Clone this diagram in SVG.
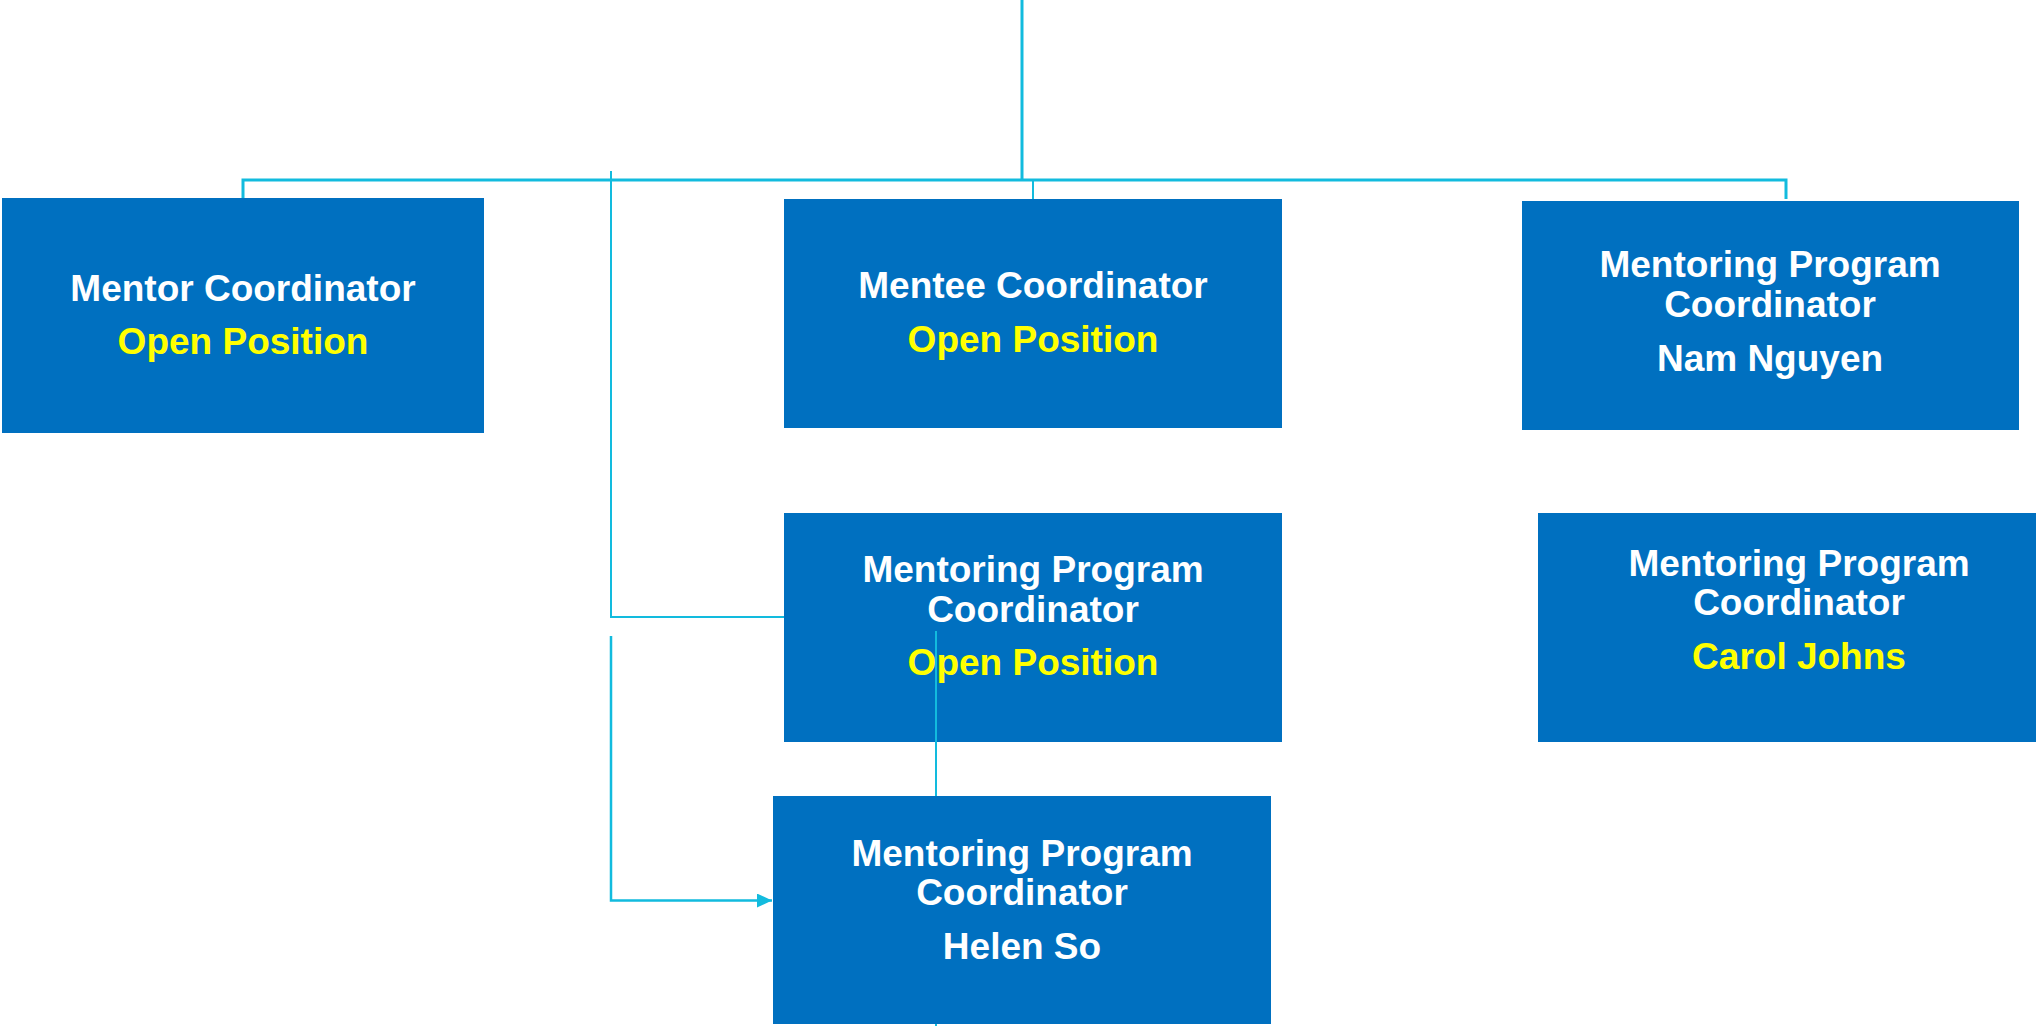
<svg xmlns="http://www.w3.org/2000/svg" width="2036" height="1026" viewBox="0 0 2036 1026">
<defs>
<style>
.box{fill:#0070C0}
.t{font-family:"Liberation Sans",Arial,sans-serif;font-weight:bold;font-size:37px;text-anchor:middle;fill:#FFFFFF}
.y{fill:#FFFF00}
.ln{fill:none;stroke:#12BBDE}
</style>
<marker id="arr" markerWidth="15" markerHeight="14" refX="15" refY="7" orient="auto" markerUnits="userSpaceOnUse">
<path d="M0,0 L15,7 L0,14 Z" fill="#12BBDE"/>
</marker>
</defs>
<rect width="2036" height="1026" fill="#FFFFFF"/>
<g id="connectors">
<path class="ln" stroke-width="3" d="M1022,0 V180"/>
<path class="ln" stroke-width="3" d="M243,198 V180 H1786 V199"/>
<path class="ln" stroke-width="2" d="M1033,180 V199"/>
<path class="ln" stroke-width="2" d="M611,171 V617 H784"/>
<path class="ln" stroke-width="2.5" d="M611,636 V900.5 H772" marker-end="url(#arr)"/>
</g>
<g id="mentor-coordinator">
<rect class="box" x="2" y="198" width="482" height="235"/>
<text class="t" x="243" y="301">Mentor Coordinator</text>
<text class="t y" x="243" y="354">Open Position</text>
</g>
<g id="mentee-coordinator">
<rect class="box" x="784" y="199" width="498" height="229"/>
<text class="t" x="1033" y="298">Mentee Coordinator</text>
<text class="t y" x="1033" y="352">Open Position</text>
</g>
<g id="mpc-nam-nguyen">
<rect class="box" x="1522" y="201" width="497" height="229"/>
<text class="t" x="1770" y="277">Mentoring Program</text>
<text class="t" x="1770" y="317">Coordinator</text>
<text class="t" x="1770" y="371">Nam Nguyen</text>
</g>
<g id="mpc-open-position">
<rect class="box" x="784" y="513" width="498" height="229"/>
<text class="t" x="1033" y="582">Mentoring Program</text>
<text class="t" x="1033" y="622">Coordinator</text>
<text class="t y" x="1033" y="675">Open Position</text>
</g>
<g id="mpc-helen-so">
<rect class="box" x="773" y="796" width="498" height="228"/>
<text class="t" x="1022" y="866">Mentoring Program</text>
<text class="t" x="1022" y="905">Coordinator</text>
<text class="t" x="1022" y="959">Helen So</text>
</g>
<g id="mpc-carol-johns">
<rect class="box" x="1538" y="513" width="498" height="229"/>
<text class="t" x="1799" y="576">Mentoring Program</text>
<text class="t" x="1799" y="615">Coordinator</text>
<text class="t y" x="1799" y="669">Carol Johns</text>
</g>
<g id="overlay-connector">
<path class="ln" stroke-width="2" d="M936,631 V796"/>
<path class="ln" stroke-width="2" d="M936,1024 V1026"/>
</g>
</svg>
